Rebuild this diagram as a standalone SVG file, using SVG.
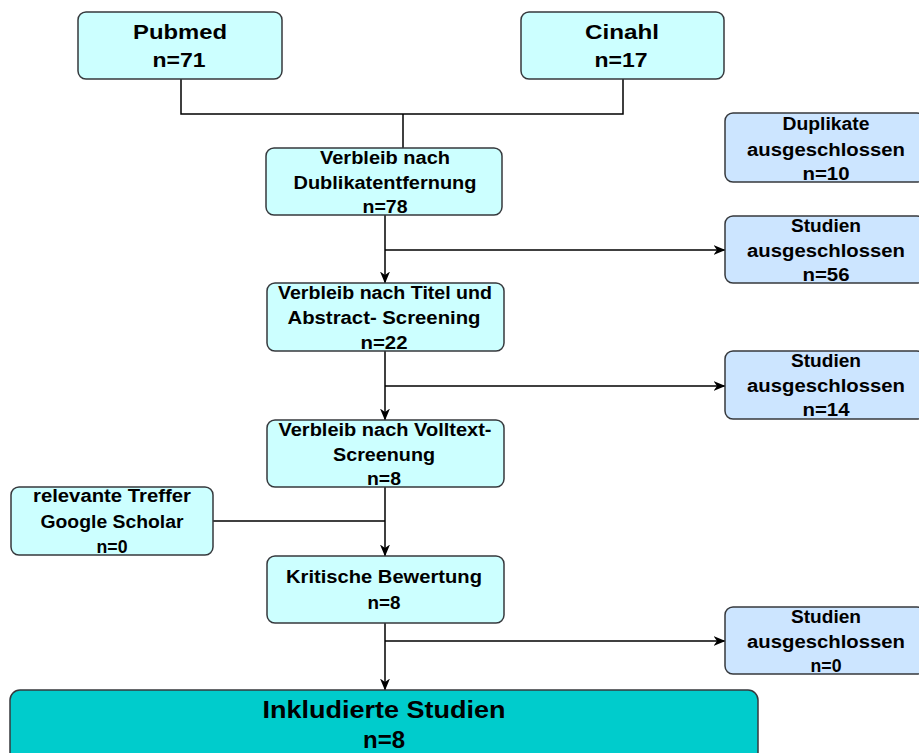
<svg xmlns="http://www.w3.org/2000/svg" width="919" height="753" viewBox="0 0 919 753">
<style>
.box{stroke:#36393d;stroke-width:1.5}
.c1{fill:#ccffff}
.c2{fill:#cce5ff}
.c3{fill:#00cccc}
text{font-family:"Liberation Sans",Arial,sans-serif;font-weight:bold;fill:#000;text-anchor:middle}
.t{font-size:17.5px}
.big{font-size:20px}
.huge{font-size:24px}
.ln{fill:none;stroke:#000;stroke-width:1.5}
</style>
<defs>
<marker id="arr" viewBox="0 0 12 10" refX="11.5" refY="5" markerWidth="12" markerHeight="10" markerUnits="userSpaceOnUse" orient="auto">
<path d="M0,0 L12,5 L0,10 L3.5,5 Z" fill="#000"/>
</marker>
</defs>
<g id="connectors">
<path class="ln" d="M181,79 V114 H623 V79"/>
<path class="ln" d="M403,114 V148"/>
<path class="ln" d="M385,215 V283" marker-end="url(#arr)"/>
<path class="ln" d="M385,250 H725" marker-end="url(#arr)"/>
<path class="ln" d="M385,351 V420" marker-end="url(#arr)"/>
<path class="ln" d="M385,386 H725" marker-end="url(#arr)"/>
<path class="ln" d="M385,487 V556" marker-end="url(#arr)"/>
<path class="ln" d="M213,521 H385"/>
<path class="ln" d="M385,623 V690" marker-end="url(#arr)"/>
<path class="ln" d="M385,641 H725" marker-end="url(#arr)"/>
</g>
<g id="pubmed">
<rect class="box c1" x="78" y="12" width="204" height="67" rx="8"/>
<text class="big" x="180" y="39" textLength="94" lengthAdjust="spacingAndGlyphs">Pubmed</text>
<text class="big" x="179" y="67" textLength="53" lengthAdjust="spacingAndGlyphs">n=71</text>
</g>
<g id="cinahl">
<rect class="box c1" x="521" y="12" width="203" height="67" rx="8"/>
<text class="big" x="622" y="39" textLength="74" lengthAdjust="spacingAndGlyphs">Cinahl</text>
<text class="big" x="621" y="67" textLength="53" lengthAdjust="spacingAndGlyphs">n=17</text>
</g>
<g id="dublikat">
<rect class="box c1" x="266" y="148" width="236" height="67" rx="8"/>
<text class="t" x="385" y="164" textLength="130" lengthAdjust="spacingAndGlyphs">Verbleib nach</text>
<text class="t" x="385" y="189" textLength="183" lengthAdjust="spacingAndGlyphs">Dublikatentfernung</text>
<text class="t" x="385" y="213" textLength="45" lengthAdjust="spacingAndGlyphs">n=78</text>
</g>
<g id="duplikate">
<rect class="box c2" x="725" y="113" width="200" height="69" rx="8"/>
<text class="t" x="826" y="130" textLength="87" lengthAdjust="spacingAndGlyphs">Duplikate</text>
<text class="t" x="826" y="156" textLength="158" lengthAdjust="spacingAndGlyphs">ausgeschlossen</text>
<text class="t" x="826" y="180" textLength="47" lengthAdjust="spacingAndGlyphs">n=10</text>
</g>
<g id="excl56">
<rect class="box c2" x="725" y="216" width="200" height="67" rx="8"/>
<text class="t" x="826" y="232" textLength="70" lengthAdjust="spacingAndGlyphs">Studien</text>
<text class="t" x="826" y="257" textLength="158" lengthAdjust="spacingAndGlyphs">ausgeschlossen</text>
<text class="t" x="826" y="281" textLength="47" lengthAdjust="spacingAndGlyphs">n=56</text>
</g>
<g id="titel">
<rect class="box c1" x="267" y="283" width="237" height="68" rx="8"/>
<text class="t" x="385" y="299" textLength="214" lengthAdjust="spacingAndGlyphs">Verbleib nach Titel und</text>
<text class="t" x="384" y="324" textLength="193" lengthAdjust="spacingAndGlyphs">Abstract- Screening</text>
<text class="t" x="384" y="349" textLength="47" lengthAdjust="spacingAndGlyphs">n=22</text>
</g>
<g id="excl14">
<rect class="box c2" x="725" y="351" width="200" height="68" rx="8"/>
<text class="t" x="826" y="367" textLength="70" lengthAdjust="spacingAndGlyphs">Studien</text>
<text class="t" x="826" y="392" textLength="158" lengthAdjust="spacingAndGlyphs">ausgeschlossen</text>
<text class="t" x="826" y="416" textLength="47" lengthAdjust="spacingAndGlyphs">n=14</text>
</g>
<g id="volltext">
<rect class="box c1" x="267" y="420" width="237" height="67" rx="8"/>
<text class="t" x="385" y="436" textLength="213" lengthAdjust="spacingAndGlyphs">Verbleib nach Volltext-</text>
<text class="t" x="384" y="461" textLength="102" lengthAdjust="spacingAndGlyphs">Screenung</text>
<text class="t" x="384" y="485" textLength="34" lengthAdjust="spacingAndGlyphs">n=8</text>
</g>
<g id="google">
<rect class="box c1" x="11" y="487" width="202" height="68" rx="8"/>
<text class="t" x="112" y="502" textLength="158" lengthAdjust="spacingAndGlyphs">relevante Treffer</text>
<text class="t" x="112" y="528" textLength="143" lengthAdjust="spacingAndGlyphs">Google Scholar</text>
<text class="t" x="112" y="553" textLength="31" lengthAdjust="spacingAndGlyphs">n=0</text>
</g>
<g id="kritisch">
<rect class="box c1" x="267" y="556" width="237" height="67" rx="8"/>
<text class="t" x="384" y="583" textLength="196" lengthAdjust="spacingAndGlyphs">Kritische Bewertung</text>
<text class="t" x="384" y="609" textLength="33" lengthAdjust="spacingAndGlyphs">n=8</text>
</g>
<g id="excl0">
<rect class="box c2" x="725" y="607" width="200" height="67" rx="8"/>
<text class="t" x="826" y="623" textLength="70" lengthAdjust="spacingAndGlyphs">Studien</text>
<text class="t" x="826" y="648" textLength="158" lengthAdjust="spacingAndGlyphs">ausgeschlossen</text>
<text class="t" x="826" y="672" textLength="31" lengthAdjust="spacingAndGlyphs">n=0</text>
</g>
<g id="inkludiert">
<rect class="box c3" x="10" y="690" width="748" height="80" rx="10"/>
<text class="huge" x="384" y="718" textLength="243" lengthAdjust="spacingAndGlyphs">Inkludierte Studien</text>
<text class="huge" x="384" y="748" textLength="42" lengthAdjust="spacingAndGlyphs">n=8</text>
</g>
</svg>
